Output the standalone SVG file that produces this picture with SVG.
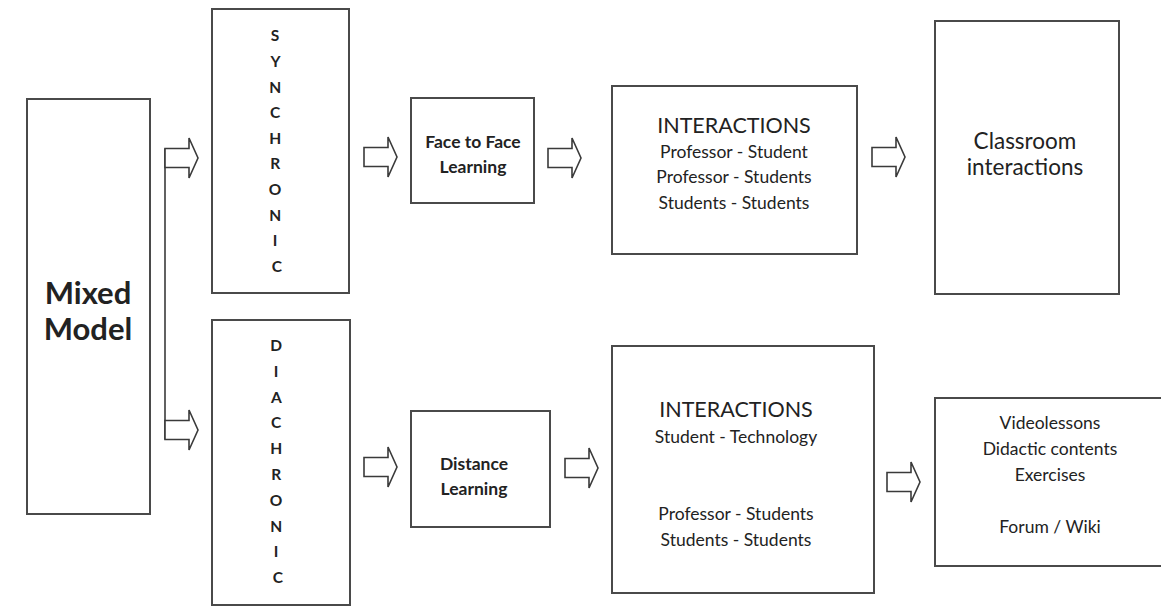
<svg xmlns="http://www.w3.org/2000/svg" xmlns:xlink="http://www.w3.org/1999/xlink" width="1161" height="615" viewBox="0 0 1161 615">
  <style>
    .box { fill: #ffffff; stroke: #4a4a4a; stroke-width: 2; }
    .arrow { fill: #ffffff; stroke: #3a3a3a; stroke-width: 1.6; stroke-linejoin: miter; }
    .link { fill: none; stroke: #3a3a3a; stroke-width: 1.6; }
    text { font-family: "Lato", "Open Sans", "Liberation Sans", sans-serif; fill: #222222; text-anchor: middle; }
    .big { font-size: 31px; font-weight: bold; }
    .letters { font-size: 15.5px; font-weight: bold; }
    .stage { font-size: 17.5px; font-weight: bold; }
    .title { font-size: 21.5px; }
    .item { font-size: 17.5px; }
    .label { font-size: 22.5px; }
    .res { font-size: 17.5px; }
  </style>
  <defs>
    <!-- block arrow, origin at the left end of the shaft, pointing right -->
    <path id="arrow" d="M0,-9.5 H24 V-20 L33,0 L24,20 V9.5 H0 Z"/>
  </defs>
  <rect width="1161" height="615" fill="#ffffff"/>

  <g id="connectors">
    <path class="link" d="M165,148.5 V439.5"/>
    <use href="#arrow" class="arrow" x="165" y="158"/>
    <use href="#arrow" class="arrow" x="165" y="430"/>
    <use href="#arrow" class="arrow" x="364" y="157"/>
    <use href="#arrow" class="arrow" x="364" y="467"/>
    <use href="#arrow" class="arrow" x="548" y="158"/>
    <use href="#arrow" class="arrow" x="565" y="468"/>
    <use href="#arrow" class="arrow" x="872" y="157"/>
    <use href="#arrow" class="arrow" x="887" y="482"/>
  </g>

  <g id="mixed-model">
    <rect class="box" x="27" y="99" width="123" height="415"/>
    <text class="big" x="88" y="304">Mixed</text>
    <text class="big" x="88" y="340">Model</text>
  </g>

  <g id="synchronic">
    <rect class="box" x="212" y="9" width="137" height="284"/>
    <text class="letters" x="277">
      <tspan x="277" y="41">S</tspan>
      <tspan x="277" y="67">Y</tspan>
      <tspan x="277" y="93">N</tspan>
      <tspan x="277" y="118">C</tspan>
      <tspan x="277" y="144">H</tspan>
      <tspan x="277" y="169">R</tspan>
      <tspan x="277" y="195">O</tspan>
      <tspan x="277" y="221">N</tspan>
      <tspan x="277" y="246">I</tspan>
      <tspan x="277" y="272">C</tspan>
    </text>
  </g>

  <g id="diachronic">
    <rect class="box" x="212" y="320" width="138" height="285"/>
    <text class="letters" x="278">
      <tspan x="278" y="351">D</tspan>
      <tspan x="278" y="377">I</tspan>
      <tspan x="278" y="403">A</tspan>
      <tspan x="278" y="428">C</tspan>
      <tspan x="278" y="454">H</tspan>
      <tspan x="278" y="480">R</tspan>
      <tspan x="278" y="506">O</tspan>
      <tspan x="278" y="532">N</tspan>
      <tspan x="278" y="557">I</tspan>
      <tspan x="278" y="583">C</tspan>
    </text>
  </g>

  <g id="face-to-face">
    <rect class="box" x="411" y="98" width="123" height="105"/>
    <text class="stage" x="473" y="148">Face to Face</text>
    <text class="stage" x="473" y="173">Learning</text>
  </g>

  <g id="distance">
    <rect class="box" x="411" y="411" width="139" height="116"/>
    <text class="stage" x="474" y="470">Distance</text>
    <text class="stage" x="474" y="495">Learning</text>
  </g>

  <g id="interactions-classroom">
    <rect class="box" x="612" y="86" width="245" height="168"/>
    <text class="title" x="734" y="133">INTERACTIONS</text>
    <text class="item" x="734" y="158">Professor - Student</text>
    <text class="item" x="734" y="183">Professor - Students</text>
    <text class="item" x="734" y="209">Students - Students</text>
  </g>

  <g id="interactions-distance">
    <rect class="box" x="612" y="346" width="262" height="247"/>
    <text class="title" x="736" y="417">INTERACTIONS</text>
    <text class="item" x="736" y="443">Student - Technology</text>
    <text class="item" x="736" y="520">Professor - Students</text>
    <text class="item" x="736" y="546">Students - Students</text>
  </g>

  <g id="classroom">
    <rect class="box" x="935" y="21" width="184" height="273"/>
    <text class="label" x="1025" y="149">Classroom</text>
    <text class="label" x="1025" y="175">interactions</text>
  </g>

  <g id="resources">
    <rect class="box" x="935" y="398" width="240" height="168"/>
    <text class="res" x="1050" y="429">Videolessons</text>
    <text class="res" x="1050" y="455">Didactic contents</text>
    <text class="res" x="1050" y="481">Exercises</text>
    <text class="res" x="1050" y="533">Forum / Wiki</text>
  </g>
</svg>
